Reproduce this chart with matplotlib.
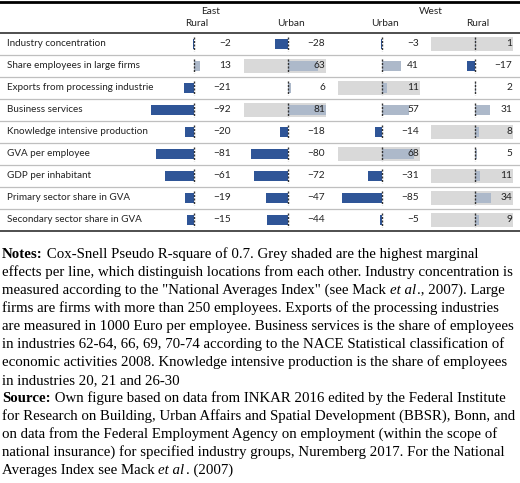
import numpy as np
import matplotlib
matplotlib.use("Agg")
import matplotlib.pyplot as plt
from matplotlib.lines import Line2D

rows = ["Industry concentration", "Share employees in large firms",
        "Exports from processing industrie", "Business services",
        "Knowledge intensive production", "GVA per employee",
        "GDP per inhabitant", "Primary sector share in GVA",
        "Secondary sector share in GVA"]
regions = ["East", "West"]
columns = ["Rural", "Urban", "Urban", "Rural"]
east_rural = [-2, 13, -21, -92, -20, -81, -61, -19, -15]
east_urban = [-28, 63, 6, 81, -18, -80, -72, -47, -44]
west_urban = [-3, 41, 11, 57, -14, 68, -31, -85, -5]
west_rural = [1, -17, 2, 31, 8, 5, 11, 34, 9]

notes_lines = [
    [("Notes:", "bold"), (" Cox-Snell Pseudo R-square of 0.7. Grey shaded are the highest marginal", "normal")],
    [("effects per line, which distinguish locations from each other. Industry concentration is", "normal")],
    [("measured according to the \"National Averages Index\" (see Mack ", "normal"), ("et al", "italic"), ("., 2007). Large", "normal")],
    [("firms are firms with more than 250 employees. Exports of the processing industries", "normal")],
    [("are measured in 1000 Euro per employee. Business services is the share of employees", "normal")],
    [("in industries 62-64, 66, 69, 70-74 according to the NACE Statistical classification of", "normal")],
    [("economic activities 2008. Knowledge intensive production is the share of employees", "normal")],
    [("in industries 20, 21 and 26-30", "normal")],
    [("Source:", "bold"), (" Own figure based on data from INKAR 2016 edited by the Federal Institute", "normal")],
    [("for Research on Building, Urban Affairs and Spatial Development (BBSR), Bonn, and", "normal")],
    [("on data from the Federal Employment Agency on employment (within the scope of", "normal")],
    [("national insurance) for specified industry groups, Nuremberg 2017. For the National", "normal")],
    [("Averages Index see Mack ", "normal"), ("et al", "italic"), (". (2007)", "normal")],
]

DARK = "#2F5597"
LIGHT = "#ADB9CA"
GREY = "#D9D9D9"
SANS = "Lato"
SERIF = "Liberation Serif"
TXT = "#222222"

W, H = 520, 483
fig = plt.figure(figsize=(W / 100, H / 100), dpi=100)
renderer = fig.canvas.get_renderer()


def fx(px):
    return px / W


def fy(py):
    return 1 - py / H


values = np.array([east_rural, east_urban, west_urban, west_rural]).T
best = values.argmax(axis=1)
n = len(rows)
top, bottom = 33, 231

# row labels and separators
base = fig.add_axes([0, fy(bottom), 1, (bottom - top) / H])
base.set_xlim(0, W)
base.set_ylim(n - 0.5, -0.5)
base.axis("off")
for i, r in enumerate(rows):
    base.text(7, i, r, ha="left", va="center", fontsize=7.1, family=SANS, color=TXT)
for b in np.arange(0.5, n - 0.5):
    base.axhline(b, color="#BFBFBF", lw=0.9)

# one small axes per column of data bars
zeros = [194, 288, 382, 475]
lo, hi = -94, 81
for j, x0 in enumerate(zeros):
    ax = fig.add_axes([fx(x0 - 44), fy(bottom), 82 / W, (bottom - top) / H])
    ax.set_xlim(lo, hi)
    ax.set_ylim(n - 0.5, -0.5)
    ax.axis("off")
    col = values[:, j]
    for i in range(n):
        if best[i] == j:
            ax.barh(i, hi - lo, left=lo, height=0.62, color=GREY, zorder=0)
    ax.barh(np.arange(n), col, height=0.47,
            color=[DARK if v < 0 else LIGHT for v in col], zorder=1)
    ax.vlines(np.zeros(n), np.arange(n) - 0.32, np.arange(n) + 0.32,
              colors="#333333", lw=1, linestyles=(0, (1.5, 1)), zorder=2)
    for i, v in enumerate(col):
        ax.text(hi - 2, i, str(v).replace("-", "\u2212"), ha="right", va="center",
                fontsize=7.3, family=SANS, color=TXT, zorder=3)
    fig.text(fx(x0 + 3), fy(24), columns[j], ha="center", va="center",
             fontsize=7.3, family=SANS, color=TXT)

region_x = [211, 431]
for reg, x in zip(regions, region_x):
    fig.text(fx(x), fy(11), reg, ha="center", va="center", fontsize=7.3,
             family=SANS, color=TXT)

# rules
fig.add_artist(Line2D([0, 1], [fy(1.5), fy(1.5)], color="black", lw=2))
fig.add_artist(Line2D([0, 1], [fy(top), fy(top)], color="#404040", lw=1.3))
fig.add_artist(Line2D([0, 1], [fy(bottom), fy(bottom)], color="#404040", lw=1.3))

FS = 10.7


def rich_line(x, y, pieces):
    probe = fig.text(0, 0, "|", fontsize=FS, family=SERIF)
    bar_w = probe.get_window_extent(renderer).width
    probe.remove()
    for txt, style in pieces:
        kw = dict(fontsize=FS, family=SERIF, color="black", va="baseline", ha="left")
        if style == "bold":
            kw["fontweight"] = "bold"
        if style == "italic":
            kw["fontstyle"] = "italic"
        fig.text(fx(x), fy(y), txt, **kw)
        probe = fig.text(0, 0, txt + "|", **kw)
        x += probe.get_window_extent(renderer).width - bar_w
        probe.remove()


for k, line in enumerate(notes_lines):
    rich_line(2, 258 + 18 * k, line)

fig.savefig("out.png", dpi=100)
